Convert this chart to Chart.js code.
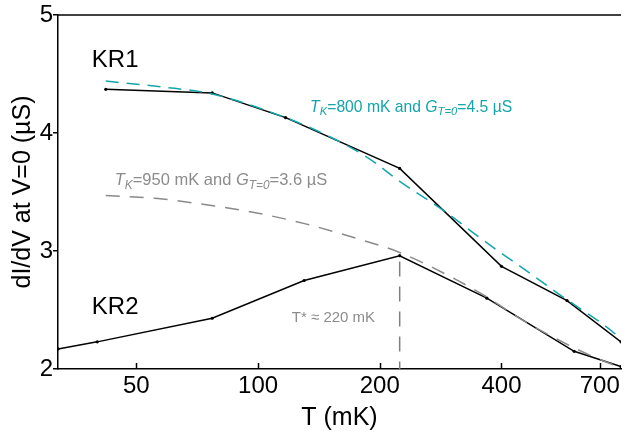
<!DOCTYPE html>
<html>
<head>
<meta charset="utf-8">
<script src="https://cdn.jsdelivr.net/npm/chart.js@4.4.1/dist/chart.umd.min.js"></script>
<style>
  html, body { margin: 0; padding: 0; background: #fff; }
  canvas { display: block; }
</style>
</head>
<body>
<canvas id="chart" width="625" height="437"></canvas>
<script>
const FONT = '"Liberation Sans", Arial, sans-serif';

const xTicks = [50, 100, 200, 400, 700];
const yTicks = [2, 3, 4, 5];

// measured points, KR1 and KR2
const kr1T = [42, 77, 117, 224, 400, 581, 790];
const kr1G = [4.37, 4.34, 4.13, 3.70, 2.87, 2.58, 2.23];

const kr2T = [32, 40, 77, 130, 224, 368, 605, 790];
const kr2G = [2.17, 2.23, 2.43, 2.75, 2.96, 2.60, 2.15, 2.02];

// dashed fit curves
const fit1T = [42, 58, 77, 117, 150, 187, 224, 294, 348, 400, 445, 568, 769, 790];
const fit1G = [4.44, 4.39, 4.33, 4.13, 3.97, 3.79, 3.59, 3.32, 3.13, 2.98, 2.87, 2.61, 2.29, 2.25];

const fit2T = [42, 58, 75, 100, 131, 170, 223, 300, 368, 453, 613, 713, 790];
const fit2G = [3.47, 3.44, 3.39, 3.32, 3.23, 3.12, 2.99, 2.78, 2.61, 2.41, 2.17, 2.07, 2.01];

// T* marker
const tStarT = [224, 224];
const tStarG = [2.91, 2.0];

const pts = (xs, ys) => xs.map((v, i) => ({ x: v, y: ys[i] }));

function richText(ctx, parts, x0, y0, size, color) {
  let cx = x0;
  ctx.fillStyle = color;
  ctx.textBaseline = 'alphabetic';
  ctx.textAlign = 'left';
  parts.forEach(([txt, italic, sub]) => {
    const s = sub ? size * 0.72 : size;
    ctx.font = (italic ? 'italic ' : '') + s + 'px ' + FONT;
    ctx.fillText(txt, cx, y0 + (sub ? size * 0.22 : 0));
    cx += ctx.measureText(txt).width;
  });
}

const overlay = {
  id: 'overlay',
  afterDraw(chart) {
    const { ctx, chartArea: a, scales: { x, y } } = chart;
    ctx.save();
    ctx.strokeStyle = '#000';
    ctx.lineWidth = 1.5;
    ctx.beginPath();
    ctx.moveTo(a.left, a.top);
    ctx.lineTo(a.right, a.top);
    ctx.stroke();
    xTicks.forEach(v => {
      const px = Math.round(x.getPixelForValue(v)) + 0.5;
      ctx.beginPath();
      ctx.moveTo(px, a.bottom);
      ctx.lineTo(px, a.bottom - 6);
      ctx.stroke();
    });

    const at = (t, g) => [x.getPixelForValue(t), y.getPixelForValue(g)];
    let p;
    p = at(38.8, 4.562);
    richText(ctx, [['KR1']], p[0], p[1], 24, '#000');
    p = at(38.8, 2.47);
    richText(ctx, [['KR2']], p[0], p[1], 24, '#000');
    p = at(134.5, 4.18);
    richText(ctx, [['T', true], ['K', true, true], ['=800 mK and '], ['G', true], ['T=0', true, true], ['=4.5 µS']],
      p[0], p[1], 15.7, '#14a5aa');
    p = at(44.2, 3.558);
    richText(ctx, [['T', true], ['K', true, true], ['=950 mK and '], ['G', true], ['T=0', true, true], ['=3.6 µS']],
      p[0], p[1], 16.5, '#8c8c8c');
    p = at(121.2, 2.396);
    richText(ctx, [['T*'], [' ≈ 220 mK']], p[0], p[1], 15, '#8c8c8c');
    ctx.restore();
  }
};

new Chart(document.getElementById('chart'), {
  type: 'line',
  data: {
    datasets: [
      {
        data: pts(fit1T, fit1G),
        borderColor: '#14a5aa',
        borderWidth: 1.5,
        borderDash: [13, 8],
        pointRadius: 0,
        cubicInterpolationMode: 'monotone',
        fill: false,
      },
      {
        data: pts(fit2T, fit2G),
        borderColor: '#8a8a8a',
        borderWidth: 1.5,
        borderDash: [14, 10],
        pointRadius: 0,
        cubicInterpolationMode: 'monotone',
        fill: false,
      },
      {
        data: pts(tStarT, tStarG),
        borderColor: '#808080',
        borderWidth: 1.5,
        borderDash: [15, 10],
        pointRadius: 0,
        fill: false,
      },
      {
        data: pts(kr1T, kr1G),
        borderColor: '#000',
        borderWidth: 1.5,
        pointRadius: 1.6,
        pointBorderWidth: 0,
        pointBackgroundColor: '#000',
        tension: 0,
        fill: false,
      },
      {
        data: pts(kr2T, kr2G),
        borderColor: '#000',
        borderWidth: 1.5,
        pointRadius: 1.6,
        pointBorderWidth: 0,
        pointBackgroundColor: '#000',
        tension: 0,
        fill: false,
      },
    ],
  },
  options: {
    responsive: false,
    animation: false,
    events: [],
    layout: { padding: { top: 15, right: 0, left: 0, bottom: 0 } },
    plugins: {
      legend: { display: false },
      tooltip: { enabled: false },
    },
    scales: {
      x: {
        type: 'logarithmic',
        min: 32,
        max: 790,
        afterBuildTicks: (s) => { s.ticks = xTicks.map(v => ({ value: v })); },
        afterFit: (s) => { s.height = 68; },
        grid: { display: false, drawTicks: false },
        border: { display: true, color: '#000', width: 1.5 },
        ticks: {
          color: '#000',
          font: { family: FONT, size: 24 },
          padding: 3,
          maxRotation: 0,
          autoSkip: false,
          callback: (v) => String(v),
        },
        title: {
          display: true,
          text: 'T (mK)',
          color: '#000',
          font: { family: FONT, size: 25 },
          padding: { top: 0, bottom: 4 },
        },
      },
      y: {
        type: 'linear',
        min: 2,
        max: 5,
        afterBuildTicks: (s) => { s.ticks = yTicks.map(v => ({ value: v })); },
        afterFit: (s) => { s.width = 58; },
        grid: {
          display: true,
          drawOnChartArea: false,
          drawTicks: true,
          tickLength: 5,
          color: '#000',
          lineWidth: 1.5,
        },
        border: { display: true, color: '#000', width: 1.5 },
        ticks: {
          color: '#000',
          font: { family: FONT, size: 24 },
          padding: 0,
          callback: (v) => String(v),
        },
        title: {
          display: true,
          text: 'dI/dV at V=0 (µS)',
          color: '#000',
          font: { family: FONT, size: 25 },
          padding: { top: 8, bottom: 0 },
        },
      },
    },
  },
  plugins: [overlay],
});
</script>
</body>
</html>
